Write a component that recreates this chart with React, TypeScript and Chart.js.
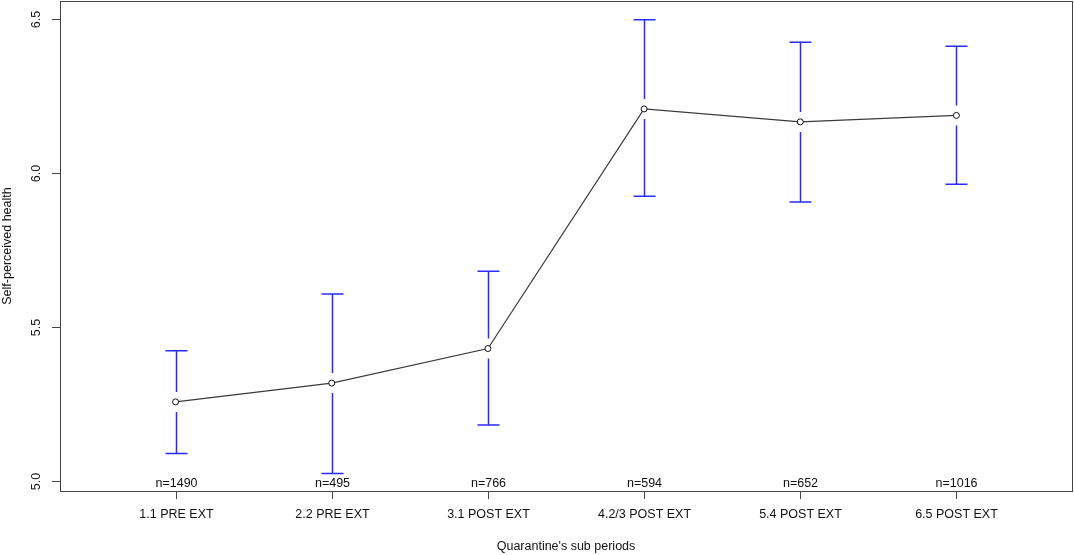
import React, { useEffect, useRef } from "react";
import { Chart, registerables } from "chart.js";

Chart.register(...registerables);

const categories = ["1.1 PRE EXT", "2.2 PRE EXT", "3.1 POST EXT", "4.2/3 POST EXT", "5.4 POST EXT", "6.5 POST EXT"];
const means = [5.257, 5.318, 5.430, 6.207, 6.165, 6.186];
const lower = [5.090, 5.025, 5.182, 5.924, 5.905, 5.963];
const upper = [5.423, 5.607, 5.681, 6.496, 6.423, 6.410];
const counts = [1490, 495, 766, 594, 652, 1016];
const yTicks = [5.0, 5.5, 6.0, 6.5];
const xTitle = "Quarantine's sub periods";
const yTitle = "Self-perceived health";

const FONT = "12.5px 'Liberation Sans', Arial, sans-serif";

const errorBarPlugin = {
  id: "errorBars",
  beforeDatasetsDraw(chart: any) {
    const ctx = chart.ctx;
    const xs = chart.scales.x;
    const ys = chart.scales.y;
    ctx.save();
    ctx.strokeStyle = "#2a2aff";
    ctx.lineWidth = 1.5;
    const gap = 10;
    const cap = 11;
    categories.forEach((_, i) => {
      const px = Math.round(xs.getPixelForValue(i + 1)) + 0.5;
      const pm = ys.getPixelForValue(means[i]);
      const pu = ys.getPixelForValue(upper[i]);
      const pl = ys.getPixelForValue(lower[i]);
      ctx.beginPath();
      ctx.moveTo(px, pu);
      ctx.lineTo(px, pm - gap);
      ctx.moveTo(px, pm + gap);
      ctx.lineTo(px, pl);
      ctx.moveTo(px - cap, pu);
      ctx.lineTo(px + cap, pu);
      ctx.moveTo(px - cap, pl);
      ctx.lineTo(px + cap, pl);
      ctx.stroke();
    });
    ctx.restore();
  },
  afterDraw(chart: any) {
    const ctx = chart.ctx;
    const xs = chart.scales.x;
    const ys = chart.scales.y;
    const a = chart.chartArea;
    ctx.save();
    ctx.strokeStyle = "#444444";
    ctx.lineWidth = 1;
    ctx.strokeRect(a.left + 0.5, a.top + 0.5, a.right - a.left, a.bottom - a.top);
    ctx.fillStyle = "#111111";
    ctx.font = FONT;
    // x ticks
    ctx.textAlign = "center";
    ctx.textBaseline = "middle";
    categories.forEach((c, i) => {
      const px = Math.round(xs.getPixelForValue(i + 1)) + 0.5;
      ctx.beginPath();
      ctx.moveTo(px, a.bottom);
      ctx.lineTo(px, a.bottom + 8);
      ctx.stroke();
      ctx.fillText(c, px, a.bottom + 24);
      ctx.fillText("n=" + counts[i], px, a.bottom - 7);
    });
    ctx.fillText(xTitle, (a.left + a.right) / 2, a.bottom + 56);
    // y ticks
    yTicks.forEach((t) => {
      const py = Math.round(ys.getPixelForValue(t)) + 0.5;
      ctx.beginPath();
      ctx.moveTo(a.left - 8, py);
      ctx.lineTo(a.left, py);
      ctx.stroke();
      ctx.save();
      ctx.translate(a.left - 23, py);
      ctx.rotate(-Math.PI / 2);
      ctx.fillText(t.toFixed(1), 0, 0);
      ctx.restore();
    });
    ctx.save();
    ctx.translate(8, (a.top + a.bottom) / 2);
    ctx.rotate(-Math.PI / 2);
    ctx.fillText(yTitle, 0, 0);
    ctx.restore();
    ctx.restore();
  },
};

export default function App() {
  const ref = useRef<HTMLCanvasElement | null>(null);
  useEffect(() => {
    document.body.style.margin = "0";
    if (!ref.current) return;
    const chart = new Chart(ref.current, {
      type: "line",
      data: {
        datasets: [
          {
            data: means.map((m, i) => ({ x: i + 1, y: m })),
            borderColor: "#3a3a3a",
            borderWidth: 1.2,
            pointRadius: 3,
            pointBackgroundColor: "#ffffff",
            pointBorderColor: "#111111",
            pointBorderWidth: 1,
            tension: 0,
          },
        ],
      },
      options: {
        responsive: false,
        animation: false,
        layout: { autoPadding: false, padding: { left: 60, top: 1, right: 2, bottom: 64 } },
        plugins: { legend: { display: false }, tooltip: { enabled: false } },
        scales: {
          x: { type: "linear", min: 0.26, max: 6.74, display: false },
          y: { type: "linear", min: 4.968, max: 6.557, display: false },
        },
      },
      plugins: [errorBarPlugin],
    });
    return () => chart.destroy();
  }, []);
  return (
    <div style={{ width: 1074, height: 555, background: "#fff" }}>
      <canvas ref={ref} width={1074} height={555} style={{ display: "block" }} />
    </div>
  );
}
